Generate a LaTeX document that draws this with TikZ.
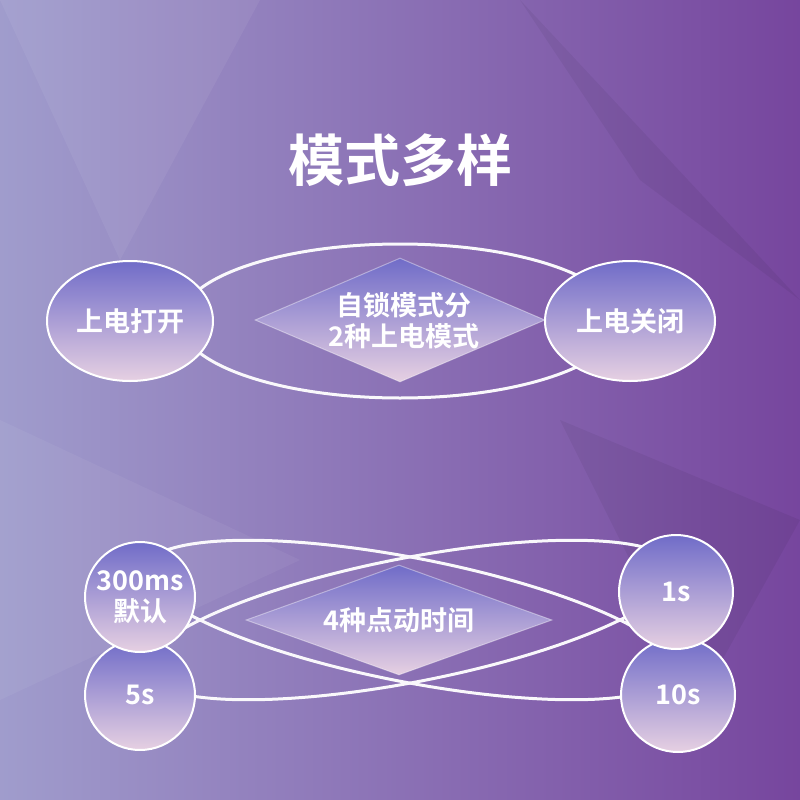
\documentclass[tikz,border=0pt]{standalone}
\usepackage{fontspec}
\newfontfamily\cjk{Noto Sans CJK SC Bold}
\usetikzlibrary{shapes.geometric}
\definecolor{bgA}{RGB}{170,178,216}
\definecolor{bgB}{RGB}{128,112,184}
\definecolor{bgC}{RGB}{108,48,146}
\definecolor{ndT}{RGB}{112,108,200}
\definecolor{ndB}{RGB}{230,208,226}
\begin{document}
\begin{tikzpicture}[x=1pt,y=-1pt,
  blob/.style={draw=white,line width=2pt,top color=ndT,bottom color=ndB,text=white,font=\cjk\fontsize{27}{31}\selectfont,align=center,inner sep=0pt},
  ring/.style={draw=white!95!bgB,line width=3pt},
  lbl/.style={text=white,font=\cjk\fontsize{27}{31}\selectfont,align=center}]
\useasboundingbox (0,0) rectangle (800,800);
\shade[shading=axis,shading angle=45,left color=bgA,middle color=bgB,right color=bgC] (-200,-200) rectangle (1000,1000);
\fill[white,opacity=0.06] (0,0)--(260,0)--(120,260)--cycle;
\fill[black,opacity=0.05] (520,0)--(800,300)--(640,180)--cycle;
\fill[white,opacity=0.05] (0,420)--(300,560)--(0,700)--cycle;
\fill[black,opacity=0.05] (560,420)--(800,520)--(700,700)--cycle;
\node[lbl,font=\cjk\fontsize{56}{62}\selectfont] (title) at (400,160) {模式多样};
% top
\draw[ring] (400,321) ellipse [x radius=220,y radius=77];
\node[blob,diamond,minimum width=290pt,minimum height=124pt,draw opacity=0.4,line width=1pt] (d1) at (400,320) {};
\node[lbl] (d1t) at (404,321) {自锁模式分\\2种上电模式};
\node[blob,ellipse,minimum width=166pt,minimum height=120pt] (l1) at (130,321) {上电打开};
\node[blob,ellipse,minimum width=170pt,minimum height=120pt] (r1) at (630,321) {上电关闭};
% bottom
\draw[ring] (410,620) ellipse [x radius=270,y radius=62,rotate=-11];
\draw[ring] (410,620) ellipse [x radius=270,y radius=62,rotate=11];
\node[blob,diamond,minimum width=306pt,minimum height=110pt,draw opacity=0.4,line width=1pt] (d2) at (399,620) {};
\node[lbl] (d2t) at (399,620) {4种点动时间};
\node[blob,circle,minimum size=110pt] (c5) at (140,695) {5s};
\node[blob,circle,minimum size=110pt] (c300) at (140,597) {300ms\\默认};
\node[blob,circle,minimum size=114pt] (c10) at (678,695) {10s};
\node[blob,circle,minimum size=114pt] (c1) at (676,592) {1s};
\end{tikzpicture}
\end{document}
